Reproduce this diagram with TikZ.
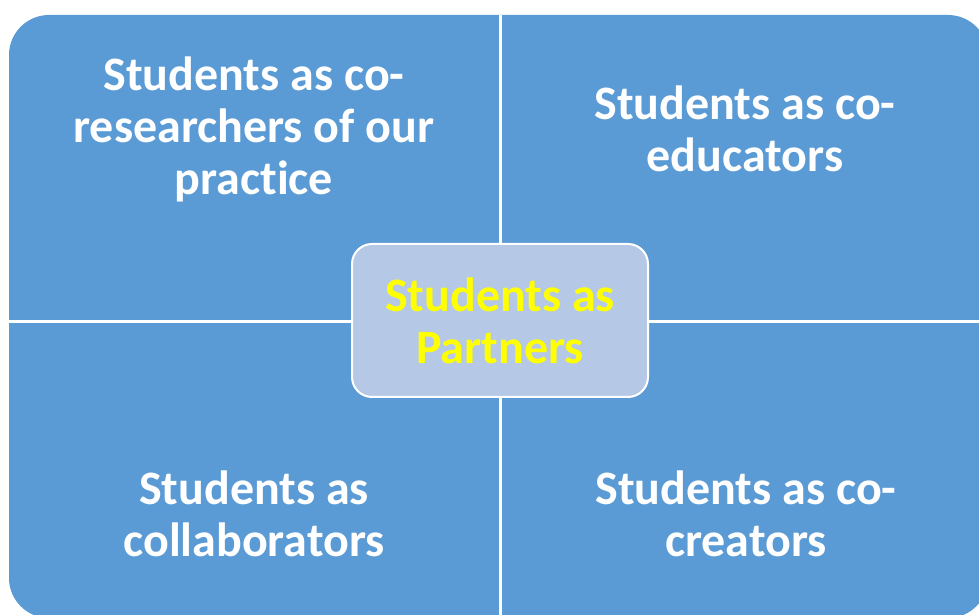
\documentclass[tikz,border=0pt]{standalone}
\usepackage{fontspec}
\setmainfont{Carlito}[Ligatures={NoCommon,NoRare}]
\definecolor{quadblue}{RGB}{91,155,213}
\definecolor{paleblue}{RGB}{181,201,231}
\definecolor{hiyellow}{RGB}{255,255,0}

\begin{document}
\begin{tikzpicture}[x=0.5pt,y=0.5pt,
    quadtext/.style={white,align=center,font=\fontsize{24}{26}\selectfont\bfseries},
    hubbox/.style={fill=paleblue,draw=white,line width=1pt,rounded corners=10pt,
      minimum width=148pt,minimum height=76.5pt,align=center,text=hiyellow,
      font=\fontsize{24}{26}\selectfont\bfseries}]
  \useasboundingbox (0,0) rectangle (979,615);
  \clip (0,0) rectangle (979,615);

  % Blue background
  \fill[quadblue,rounded corners=20pt] (9,-3) rectangle (988,600);

  % White dividing lines
  \draw[white,line width=1.5pt] (500,-3) -- (500,600);
  \draw[white,line width=1.5pt] (9,293) -- (988,293);

  % Quadrant labels
  \node[quadtext] (research) at (254,486) {Students as co-\\researchers of our\\practice};
  \node[quadtext] (educate) at (745,486) {Students as co-\\educators};
  \node[quadtext] (collab) at (254,101) {Students as\\collaborators};
  \node[quadtext] (create) at (746,101) {Students as co-\\creators};

  % Centre box
  \node[hubbox] (hub) at (500,294.5) {Students as\\Partners};
\end{tikzpicture}
\end{document}
